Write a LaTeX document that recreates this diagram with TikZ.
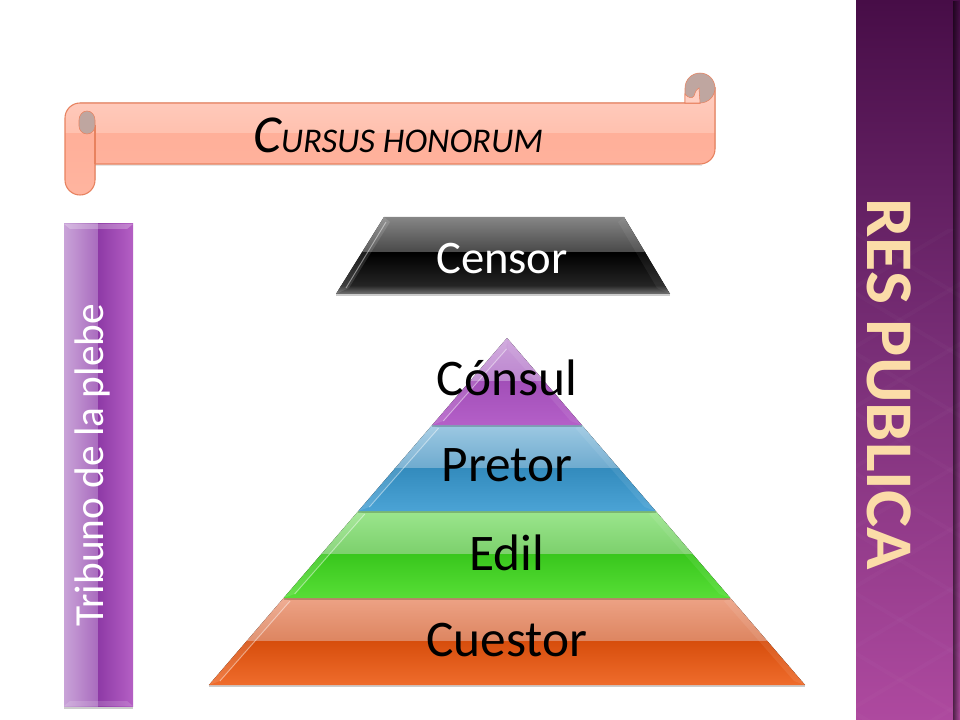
\documentclass[tikz,border=0pt]{standalone}
\usepackage{fontspec}
\setmainfont{Carlito}
\usetikzlibrary{fadings}
\definecolor{panelTop}{HTML}{470D47}
\definecolor{panelMid}{HTML}{7A2F78}
\definecolor{panelBot}{HTML}{AE499F}
\definecolor{scrollEdge}{HTML}{E8825F}
\definecolor{scrollA}{HTML}{FFCFC2}\definecolor{scrollB}{HTML}{FFC0AE}
\definecolor{scrollC}{HTML}{FFAF99}\definecolor{scrollD}{HTML}{FFB5A0}
\definecolor{scrollGray}{HTML}{BFA6A0}
\definecolor{tribunoA}{HTML}{C9A3D8}\definecolor{tribunoB}{HTML}{A96BBE}
\definecolor{tribunoC}{HTML}{8E3AA6}\definecolor{tribunoD}{HTML}{B45FC4}
\definecolor{resText}{HTML}{FBDCA8}
\definecolor{consulA}{HTML}{CBA0DA}\definecolor{consulB}{HTML}{BC86CF}
\definecolor{consulC}{HTML}{A24FB8}\definecolor{consulD}{HTML}{B45FC8}
\definecolor{pretorA}{HTML}{9CC8E2}\definecolor{pretorB}{HTML}{6FABCF}
\definecolor{pretorC}{HTML}{338BBD}\definecolor{pretorD}{HTML}{4BA3D5}
\definecolor{edilA}{HTML}{9BE68D}\definecolor{edilB}{HTML}{7CD06C}
\definecolor{edilC}{HTML}{39C71D}\definecolor{edilD}{HTML}{57DE36}
\definecolor{cuestorA}{HTML}{EDA285}\definecolor{cuestorB}{HTML}{DD8560}
\definecolor{cuestorC}{HTML}{D74E0D}\definecolor{cuestorD}{HTML}{EF6C2C}
\tikzset{
  bandtext/.style={font=\fontsize{38.5}{38.5}\selectfont,text=black,inner sep=0pt},
  bevel/.style={fill=white,fill opacity=.12},
  glint/.style={white,opacity=.45,line width=.7pt},
  softshadow/.style={fill=black,fill opacity=.2},
}
\begin{document}
\begin{tikzpicture}[x=.75pt,y=-.75pt]
\useasboundingbox (0,0) rectangle (960,720);
\fill[white] (0,0) rectangle (960,720);

% side panel
\fill[top color=panelTop,bottom color=panelMid] (856,0) rectangle (960,360);
\fill[top color=panelMid,bottom color=panelBot] (856,360) rectangle (960,720);
\begin{scope}
\clip (856,230) rectangle (960,720);
\foreach \k in {0,...,12}{
  \draw[white,opacity=.02,line width=3pt] (800,200+60*\k) -- (1000,320+60*\k);
  \draw[white,opacity=.02,line width=3pt] (800,320+60*\k) -- (1000,200+60*\k);
}
\end{scope}
\fill[black,opacity=.55,path fading=east] (953,0) rectangle (960,720);
\node[rotate=-90,xscale=1.05,inner sep=0pt,text=resText,
  font=\fontsize{50}{50}\selectfont\bfseries] (respublica) at (889,384) {RES PUBLICA};

% scroll
\fill[black,opacity=.1] (95,164) rectangle (702,166);
\def\scrollshape{(80,103) -- (700,103) -- (715,88) -- (715,149) arc (0:90:15) -- (95,164) -- (95,180) arc (0:180:15) -- (65,118) arc (180:270:15) -- cycle}
\begin{scope}
\clip \scrollshape;
\fill[top color=scrollA,bottom color=scrollB] (60,85) rectangle (720,134);
\fill[top color=scrollC,bottom color=scrollD] (60,134) rectangle (720,200);
\end{scope}
\draw[scrollEdge,line width=.8pt] \scrollshape;
\draw[scrollEdge,line width=.8pt] (95,125) -- (95,164);
\draw[scrollEdge,fill=scrollGray] (95,120) arc (0:-180:8 and 9) -- (79,126) arc (180:0:8) -- cycle;
\draw[scrollEdge,fill=scrollGray] (685,88) arc (180:360:15) arc (0:90:15) -- (685,103) -- cycle;
\draw[scrollEdge,fill=scrollA] (685,103) -- (685,94) .. controls (688,98) and (692,99) .. (694,96) .. controls (696,90) and (697,89) .. (699,88) -- (700,103) -- cycle;
\node[text=black,inner sep=0pt,font=\fontsize{26}{26}\selectfont\itshape] (cursus) at (398,135) {{\fontsize{40}{40}\selectfont C}\MakeUppercase{ursus honorum}};

% tribuno bar
\fill[softshadow] (64,706) rectangle (133,709);
\fill[left color=tribunoA,right color=tribunoB] (64,224) rectangle (98,706);
\fill[left color=tribunoC,right color=tribunoD] (98,224) rectangle (133,706);
\fill[white,opacity=.25] (64,224) -- (133,224) -- (127,229) -- (70,229) -- cycle;
\fill[white,opacity=.15] (64,706) -- (133,706) -- (127,701) -- (70,701) -- cycle;
\node[rotate=90,text=white,inner sep=0pt,font=\fontsize{31}{31}\selectfont] (tribuno) at (92,465) {Tribuno de la plebe};

% censor
\fill[softshadow] (336,294) rectangle (670,296);
\begin{scope}
\clip (384,217) -- (624,217) -- (670,294) -- (336,294) -- cycle;
\fill[top color=gray!95!white,bottom color=black!72] (330,217) rectangle (680,253);
\fill[top color=black,bottom color=black!85] (330,253) rectangle (680,287);
\fill[top color=black!80,bottom color=black!55] (330,287) rectangle (680,294);
\fill[bevel] (384,217) -- (390,222) -- (349,288) -- (336,294) -- cycle;
\fill[white,opacity=.06] (624,217) -- (618,222) -- (657,288) -- (670,294) -- cycle;
\draw[glint] (386,222) -- (346,288);
\end{scope}
\node[bandtext,font=\fontsize{35}{35}\selectfont,text=white] (censor) at (502,259) {Censor};

% pyramid
\foreach \bandname/\ytop/\ybot/\ytxt/\bandtxt in {
  cuestor/598/685/640/Cuestor,
  edil/511/598/553/Edil,
  pretor/425/511/465/Pretor,
  consul/338/425/378/Cónsul}{
  \pgfmathsetmacro{\xlt}{507-.859*(\ytop-338)}
  \pgfmathsetmacro{\xrt}{507+.859*(\ytop-338)}
  \pgfmathsetmacro{\xlb}{507-.859*(\ybot-338)}
  \pgfmathsetmacro{\xrb}{507+.859*(\ybot-338)}
  \pgfmathsetmacro{\ymid}{(\ytop+\ybot)/2}
  \pgfmathsetmacro{\yin}{max(\ytop+3,349)}
  \pgfmathsetmacro{\xin}{507-.859*(\yin-338)+9}
  \pgfmathsetmacro{\xinr}{507+.859*(\yin-338)-9}
  \fill[softshadow] (\xlb,\ybot) -- (\xrb,\ybot) -- (\xrb,\ybot+2) -- (\xlb,\ybot+2) -- cycle;
  \begin{scope}
  \clip (\xlt,\ytop) -- (\xrt,\ytop) -- (\xrb,\ybot) -- (\xlb,\ybot) -- cycle;
  \fill[top color=\bandname A,bottom color=\bandname B] (200,\ytop) rectangle (810,\ymid);
  \fill[top color=\bandname C,bottom color=\bandname D] (200,\ymid) rectangle (810,\ybot);
  \fill[bevel] (\xlt,\ytop) -- (\xin,\yin) -- (\xlb+11,\ybot-4) -- (\xlb,\ybot) -- cycle;
  \fill[white,opacity=.08] (\xrt,\ytop) -- (\xinr,\yin) -- (\xrb-11,\ybot-4) -- (\xrb,\ybot) -- cycle;
  \draw[glint] (\xin,\yin) -- (\xlb+11,\ybot-4);
  \end{scope}
  \node[bandtext] (\bandname) at (507,\ytxt) {\bandtxt};
}
\end{tikzpicture}
\end{document}
